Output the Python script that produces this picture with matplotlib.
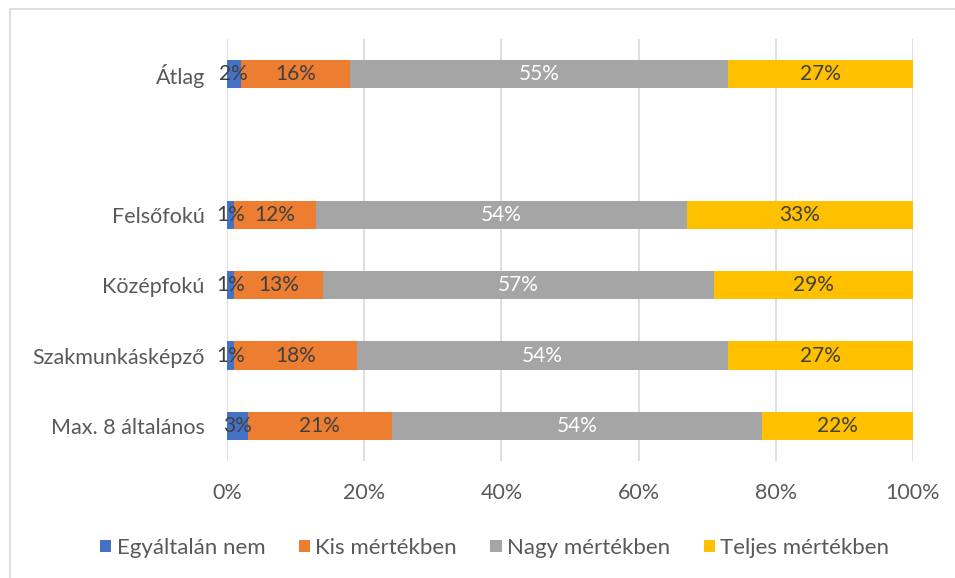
import matplotlib.pyplot as plt
import matplotlib.patches as mpatches
import numpy as np

plt.rcParams['font.family'] = ['Lato', 'DejaVu Sans']

# adatok (alulról felfelé), az üres sor a csoportok közötti rés
kategoriak = ['Max. 8 általános', 'Szakmunkásképző', 'Középfokú', 'Felsőfokú', '', 'Átlag']
egyaltalan = [3, 1, 1, 1, None, 2]
kis = [21, 18, 13, 12, None, 16]
nagy = [54, 54, 57, 54, None, 55]
teljes = [22, 27, 29, 33, None, 27]

sorozatok = ['Egyáltalán nem', 'Kis mértékben', 'Nagy mértékben', 'Teljes mértékben']
szinek = ['#4472C4', '#ED7D31', '#A5A5A5', '#FFC000']
cimke_szin = ['#404040', '#404040', 'white', '#404040']
xticks = [0, 20, 40, 60, 80, 100]

fig = plt.figure(figsize=(9.55, 5.78), dpi=100)
# keret a grafikon körül
fig.patches.append(mpatches.Rectangle((10/955, -0.1), 1.1, 1 - 9/578 + 0.1, transform=fig.transFigure,
                                      fill=False, edgecolor='#D9D9D9', linewidth=1.2))
ax = fig.add_axes([227/955, 117/578, 686/955, 422/578])

y = np.arange(len(kategoriak))
adatok = [egyaltalan, kis, nagy, teljes]
bal = np.zeros(len(kategoriak))
for sor, szin, cszin, nev in zip(adatok, szinek, cimke_szin, sorozatok):
    ertek = np.array([v if v is not None else 0 for v in sor], dtype=float)
    ax.barh(y, ertek, left=bal, height=0.4, color=szin, label=nev, zorder=3)
    for i, v in enumerate(sor):
        if v is None:
            continue
        ax.text(bal[i] + v / 2, y[i], f'{v}%', ha='center', va='center',
                color=cszin, fontsize=15, zorder=4)
    bal += ertek

ax.set_xlim(0, 100)
ax.set_ylim(-0.5, 5.5)
ax.set_xticks(xticks)
ax.set_xticklabels([f'{t}%' for t in xticks], fontsize=15.5, color='#595959')
ax.set_yticks(y)
ax.set_yticklabels(kategoriak, fontsize=15.5, color='#595959')
ax.tick_params(length=0)
ax.tick_params(axis='y', pad=16)
ax.tick_params(axis='x', pad=16)
ax.xaxis.grid(True, color='#D9D9D9', linewidth=1.2, zorder=0)
for s in ax.spines.values():
    s.set_visible(False)

fig.legend(loc='center', bbox_to_anchor=(0.518, 0.052), ncol=4, frameon=False,
           fontsize=16, labelcolor='#595959', handlelength=0.5, handleheight=0.5,
           handletextpad=0.25, columnspacing=1.5)

fig.savefig('out.png', dpi=100)
